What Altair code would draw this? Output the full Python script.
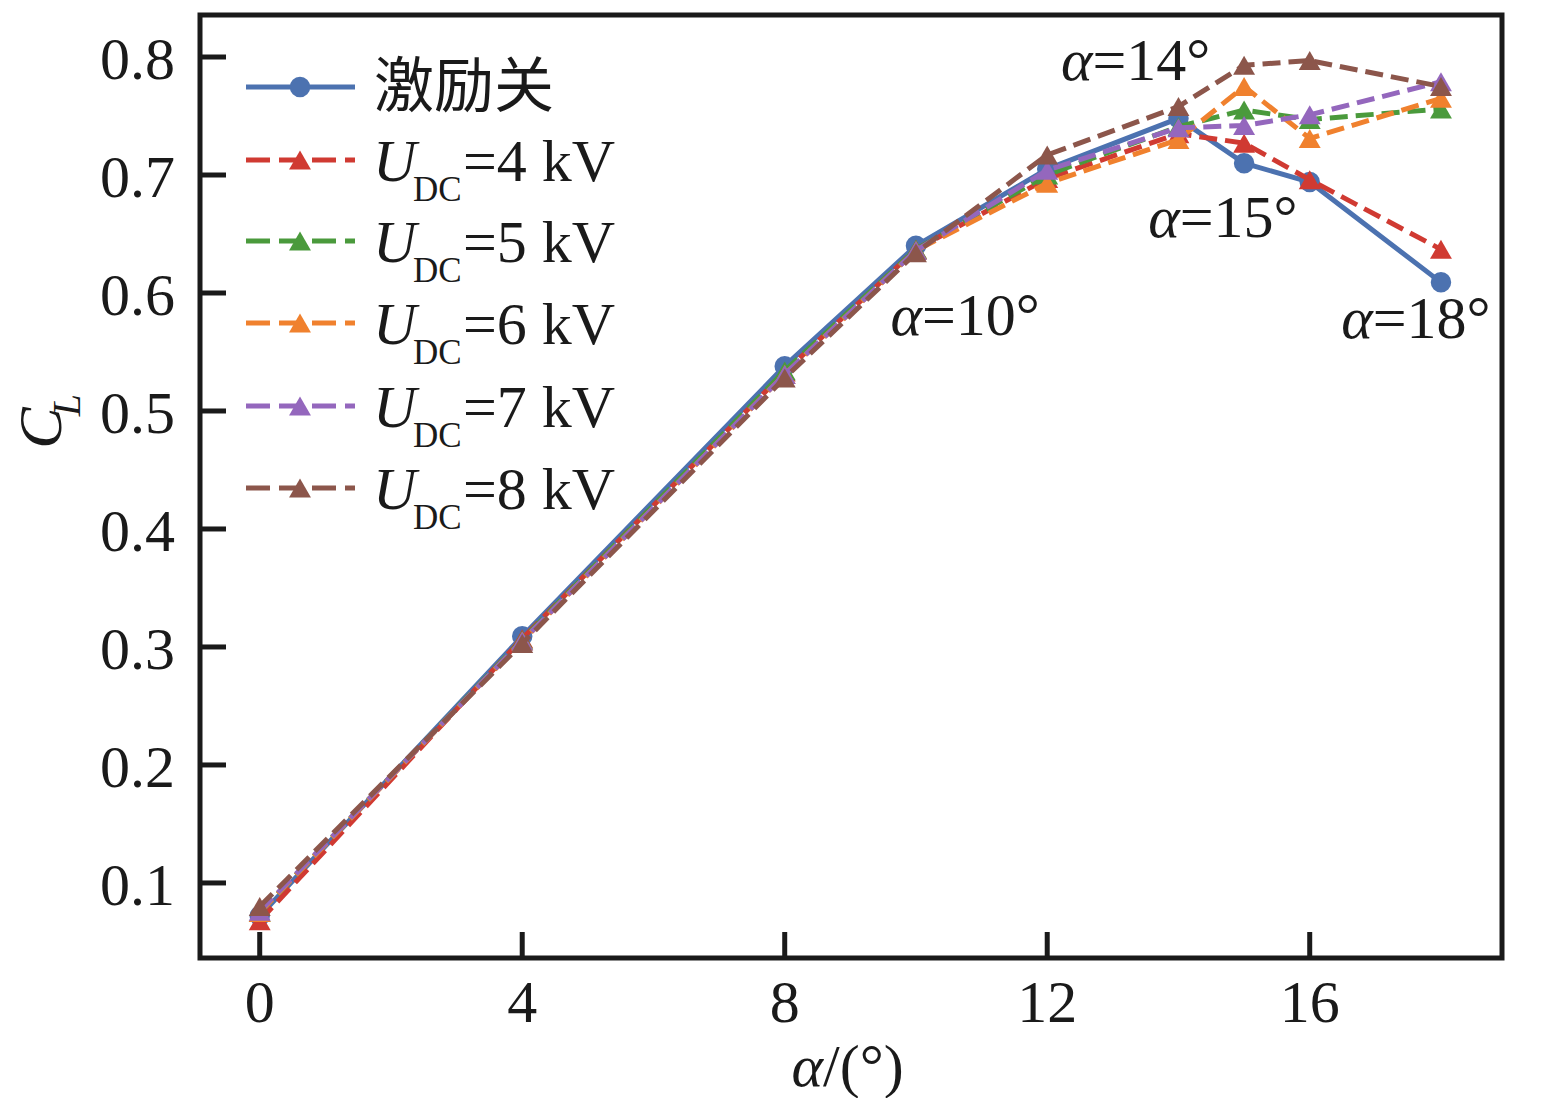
import altair as alt
import pandas as pd

# angle of attack (deg) and lift coefficient for each case
alpha = [0, 4, 8, 10, 12, 14, 15, 16, 18]
cl_off = [0.072, 0.309, 0.538, 0.640, 0.705, 0.748, 0.710, 0.694, 0.609]
cl_4kv = [0.068, 0.307, 0.533, 0.637, 0.697, 0.735, 0.727, 0.696, 0.637]
cl_5kv = [0.075, 0.306, 0.534, 0.637, 0.700, 0.741, 0.755, 0.747, 0.756]
cl_6kv = [0.075, 0.305, 0.531, 0.636, 0.693, 0.730, 0.775, 0.731, 0.765]
cl_7kv = [0.076, 0.305, 0.531, 0.636, 0.704, 0.740, 0.742, 0.751, 0.779]
cl_8kv = [0.080, 0.303, 0.528, 0.634, 0.717, 0.758, 0.793, 0.797, 0.775]

series_names = ["激励关", "4 kV", "5 kV", "6 kV", "7 kV", "8 kV"]
series_values = [cl_off, cl_4kv, cl_5kv, cl_6kv, cl_7kv, cl_8kv]
colors = ["#4c72b0", "#d03a32", "#4a9a3c", "#f0812e", "#9467bd", "#8c564b"]

x_ticks = [0, 4, 8, 12, 16]
y_ticks = [0.1, 0.2, 0.3, 0.4, 0.5, 0.6, 0.7, 0.8]

# annotation anchors (data coords, split between the alpha and the rest)
ann_x = [12.69, 14.02, 10.09, 16.96]
ann_y = [0.7805, 0.6475, 0.5644, 0.5619]
ann_text = ["=14°", "=15°", "=10°", "=18°"]

W, H = 1302, 943
SERIF = "Liberation Serif"
FS = 60
INK = "#1a1a1a"
CIRCLE, TRI = 420, 480

x_scale = alt.Scale(domain=[-0.91, 18.93], nice=False, zero=False)
y_scale = alt.Scale(domain=[0.0364, 0.8356], nice=False, zero=False)
X = alt.X("alpha:Q", scale=x_scale, axis=None)
Y = alt.Y("cl:Q", scale=y_scale, axis=None)

layers = []
for i, (name, vals) in enumerate(zip(series_names, series_values)):
    df = pd.DataFrame({"alpha": alpha, "cl": vals})
    if i == 0:
        line = alt.Chart(df).mark_line(color=colors[i], strokeWidth=5)
        pts = alt.Chart(df).mark_point(shape="circle", filled=True, opacity=1,
                                       size=CIRCLE, color=colors[i])
    else:
        line = alt.Chart(df).mark_line(color=colors[i], strokeWidth=5,
                                       strokeDash=[18, 8])
        pts = alt.Chart(df).mark_point(shape="triangle-up", filled=True, opacity=1,
                                       size=TRI, color=colors[i])
    layers.append(line.encode(x=X, y=Y))
    layers.append(pts.encode(x=X, y=Y))

# inward ticks and their labels
xdf = pd.DataFrame({"t": x_ticks})
ydf = pd.DataFrame({"t": y_ticks})
xe = alt.X("t:Q", scale=x_scale, axis=None)
ye = alt.Y("t:Q", scale=y_scale, axis=None)
layers.append(alt.Chart(xdf).mark_rule(color=INK, strokeWidth=5).encode(
    x=xe, y=alt.value(H), y2=alt.value(H - 26)))
layers.append(alt.Chart(ydf).mark_rule(color=INK, strokeWidth=5).encode(
    y=ye, x=alt.value(0), x2=alt.value(26)))
layers.append(alt.Chart(xdf).mark_text(font=SERIF, fontSize=FS, color=INK,
                                       align="center", baseline="alphabetic").encode(
    x=xe, y=alt.value(H + 64), text=alt.Text("t:Q", format="d")))
layers.append(alt.Chart(ydf).mark_text(font=SERIF, fontSize=FS, color=INK,
                                       align="right", baseline="alphabetic", dy=22).encode(
    y=ye, x=alt.value(-25), text=alt.Text("t:Q", format=".1f")))

# annotations
ann = pd.DataFrame({"x": ann_x, "y": ann_y, "t": ann_text})
ann_enc = dict(x=alt.X("x:Q", scale=x_scale, axis=None),
               y=alt.Y("y:Q", scale=y_scale, axis=None))
layers.append(alt.Chart(ann).mark_text(text="α", font=SERIF, fontStyle="italic",
                                       fontSize=FS, align="right", baseline="alphabetic",
                                       color=INK).encode(**ann_enc))
layers.append(alt.Chart(ann).mark_text(font=SERIF, fontSize=FS, align="left",
                                       baseline="alphabetic", color=INK).encode(
    text="t:N", **ann_enc))

one = pd.DataFrame({"a": [0]})


def txt(s, x, y, size=FS, style="normal", align="left", angle=0, font=SERIF,
        baseline="alphabetic"):
    return alt.Chart(one).mark_text(text=s, font=font, fontSize=size, fontStyle=style,
                                    align=align, baseline=baseline, angle=angle,
                                    color=INK).encode(x=alt.value(x), y=alt.value(y))


# axis titles
layers.append(txt("α", 623, 1071, style="italic", align="right"))
layers.append(txt("/(°)", 623, 1071))
layers.append(txt("C", -139, 413, size=62, style="italic", align="center", angle=270))
layers.append(txt("L", -120, 390, size=40, style="italic", align="center", angle=270))

# legend
row_y = [72, 145, 226, 308, 391, 473]
for i, yc in enumerate(row_y):
    if i == 0:
        ln = alt.Chart(one).mark_rule(color=colors[i], strokeWidth=5)
        mk = alt.Chart(one).mark_point(shape="circle", filled=True, opacity=1,
                                       size=CIRCLE, color=colors[i])
    else:
        ln = alt.Chart(one).mark_rule(color=colors[i], strokeWidth=5,
                                      strokeDash=[24, 9])
        mk = alt.Chart(one).mark_point(shape="triangle-up", filled=True, opacity=1,
                                       size=TRI, color=colors[i])
    layers.append(ln.encode(x=alt.value(46), x2=alt.value(155), y=alt.value(yc)))
    layers.append(mk.encode(x=alt.value(100), y=alt.value(yc)))
    if i == 0:
        layers.append(txt(series_names[0], 174, yc + 2, size=60,
                          font="Noto Sans CJK SC", baseline="middle"))
    else:
        layers.append(txt("U", 173, yc + 21, style="italic"))
        layers.append(txt("DC", 213, yc + 41, size=35))
        layers.append(txt("=" + series_names[i], 263, yc + 21))

chart = alt.layer(*layers).properties(
    width=W, height=H,
    padding={"left": 192, "top": 7, "right": 30, "bottom": 140},
    autosize=alt.AutoSizeParams(type="none"),
    background="white",
).configure_view(stroke=INK, strokeWidth=5)

chart.save("out.html", embed_options={"renderer": "svg", "actions": False})
